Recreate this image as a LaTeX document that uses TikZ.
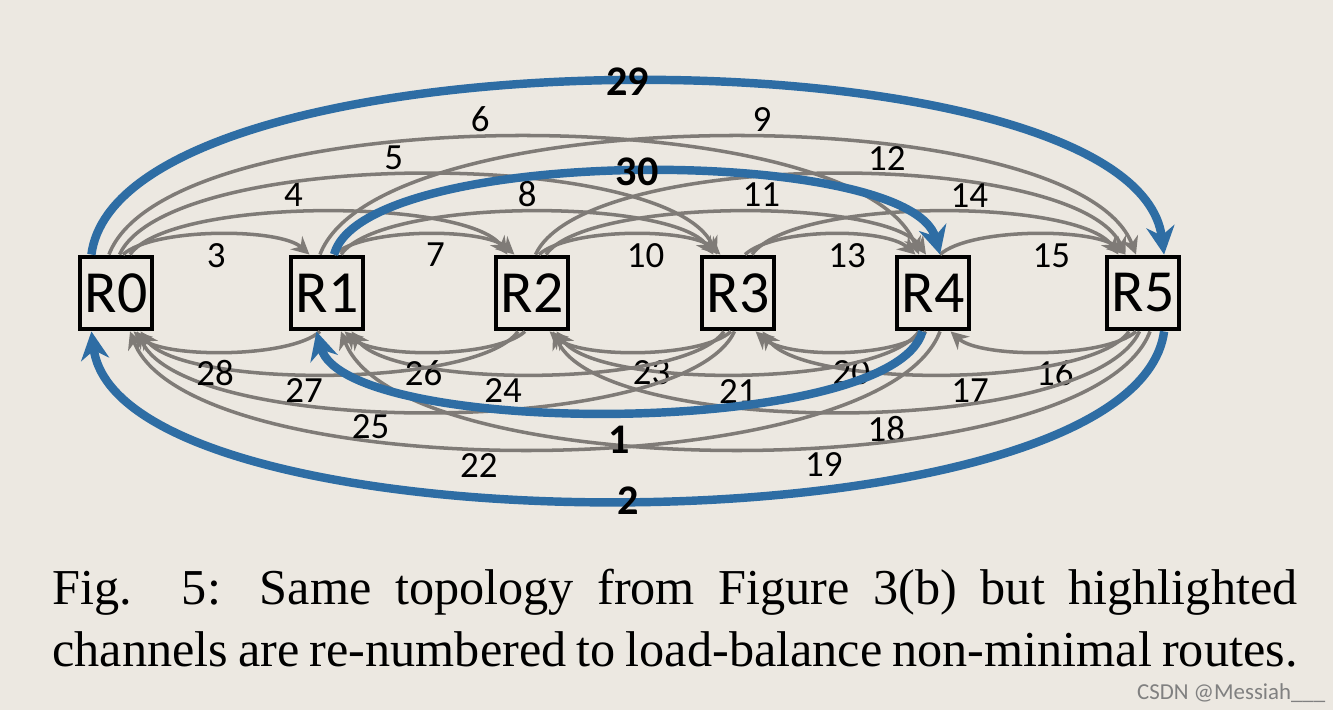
\documentclass[tikz,border=0pt]{standalone}
\usepackage{fontspec}
\setmainfont{Liberation Serif}
\newfontfamily\labfont{Carlito}
\usetikzlibrary{arrows.meta}
\definecolor{bgcol}{HTML}{ECE8E1}
\definecolor{chgray}{HTML}{7F7B77}
\definecolor{hotblue}{HTML}{2E6DA4}
\tikzset{
  router/.style={draw, line width=1.4pt, minimum size=0.72cm, inner sep=0pt, font=\labfont\fontsize{17}{17}\selectfont},
  chan/.style={draw=chgray, line width=1pt, -{Stealth[length=5pt,width=5pt]}},
  hot/.style={draw=hotblue, line width=2.4pt, -{Stealth[length=8pt,width=8pt]}},
  num/.style={font=\labfont\fontsize{10.5}{10.5}\selectfont, inner sep=1pt},
  hotnum/.style={font=\labfont\bfseries\fontsize{12}{12}\selectfont, inner sep=1pt}
}
\begin{document}
\begin{tikzpicture}
	\fill [bgcol] (0,0) rectangle (13.33,7.10);
	\useasboundingbox (0,0) rectangle (13.33,7.10);
	% routers
	\node [router] (R0) at (1.16, 4.17) {R0};
	\node [router] (R1) at (3.27, 4.17) {R1};
	\node [router] (R2) at (5.32, 4.17) {R2};
	\node [router] (R3) at (7.38, 4.17) {R3};
	\node [router] (R4) at (9.33, 4.17) {R4};
	\node [router] (R5) at (11.43, 4.17) {R5};
	% upper channels
	\draw [chan] ([xshift=2pt]R0.north) .. controls +(0.3,0.27) and +(-0.3,0.27) .. ([xshift=-5pt]R1.north) node [num, pos=0.5, below=1pt] {3};
	\draw [chan] ([xshift=4pt]R0.north) .. controls +(0.4,0.57) and +(-0.4,0.57) .. ([xshift=-7pt]R2.north) node [num, pos=0.45, above=0pt] {4};
	\draw [chan] ([xshift=1pt]R0.north) .. controls +(0.5,1.07) and +(-0.5,1.07) .. ([xshift=-6pt]R3.north) node [num, pos=0.47, above=0pt] {5};
	\draw [chan] ([xshift=-2pt]R0.north) .. controls +(0.6,1.57) and +(-0.6,1.57) .. ([xshift=-4pt]R4.north) node [num, pos=0.47, above=0pt] {6};
	\draw [chan] ([xshift=2pt]R1.north) .. controls +(0.3,0.27) and +(-0.3,0.27) .. ([xshift=-5pt]R2.north) node [num, pos=0.55, below=1pt] {7};
	\draw [chan] ([xshift=4pt]R1.north) .. controls +(0.4,0.57) and +(-0.4,0.57) .. ([xshift=-7pt]R3.north) node [num, pos=0.5, above=0pt] {8};
	\draw [chan] ([xshift=-2pt]R1.north) .. controls +(0.6,1.57) and +(-0.6,1.57) .. ([xshift=-2pt]R5.north) node [num, pos=0.53, above=0pt] {9};
	\draw [chan] ([xshift=2pt]R2.north) .. controls +(0.3,0.27) and +(-0.3,0.27) .. ([xshift=-5pt]R3.north) node [num, pos=0.57, below=1pt] {10};
	\draw [chan] ([xshift=4pt]R2.north) .. controls +(0.4,0.57) and +(-0.4,0.57) .. ([xshift=-2pt]R4.north) node [num, pos=0.55, above=0pt] {11};
	\draw [chan] ([xshift=1pt]R2.north) .. controls +(0.5,1.07) and +(-0.5,1.07) .. ([xshift=-5pt]R5.north) node [num, pos=0.57, above=0pt] {12};
	\draw [chan] ([xshift=2pt]R3.north) .. controls +(0.3,0.27) and +(-0.3,0.27) .. ([xshift=-5pt]R4.north) node [num, pos=0.58, below=1pt] {13};
	\draw [chan] ([xshift=4pt]R3.north) .. controls +(0.4,0.57) and +(-0.4,0.57) .. ([xshift=-7pt]R5.north) node [num, pos=0.57, above=0pt] {14};
	\draw [chan] ([xshift=2pt]R4.north) .. controls +(0.3,0.27) and +(-0.3,0.27) .. ([xshift=-5pt]R5.north) node [num, pos=0.58, below=1pt] {15};
	% lower channels
	\draw [chan] ([xshift=-2pt]R5.south) .. controls +(-0.3,-0.27) and +(0.3,-0.27) .. ([xshift=5pt]R4.south) node [num, pos=0.45, below=1pt] {16};
	\draw [chan] ([xshift=-4pt]R5.south) .. controls +(-0.4,-0.57) and +(0.4,-0.57) .. ([xshift=7pt]R3.south) node [num, pos=0.45, below=0pt] {17};
	\draw [chan] ([xshift=-1pt]R5.south) .. controls +(-0.5,-1.07) and +(0.5,-1.07) .. ([xshift=6pt]R2.south) node [num, pos=0.45, below=0pt] {18};
	\draw [chan] ([xshift=2pt]R5.south) .. controls +(-0.6,-1.57) and +(0.6,-1.57) .. ([xshift=4pt]R1.south) node [num, pos=0.43, below=0pt] {19};
	\draw [chan] ([xshift=-2pt]R4.south) .. controls +(-0.3,-0.27) and +(0.3,-0.27) .. ([xshift=5pt]R3.south) node [num, pos=0.45, below=1pt] {20};
	\draw [chan] ([xshift=-4pt]R4.south) .. controls +(-0.4,-0.57) and +(0.4,-0.57) .. ([xshift=7pt]R2.south) node [num, pos=0.5, below=0pt] {21};
	\draw [chan] ([xshift=2pt]R4.south) .. controls +(-0.6,-1.57) and +(0.6,-1.57) .. ([xshift=4pt]R0.south) node [num, pos=0.55, below=0pt] {22};
	\draw [chan] ([xshift=-2pt]R3.south) .. controls +(-0.3,-0.27) and +(0.3,-0.27) .. ([xshift=5pt]R2.south) node [num, pos=0.45, below=1pt] {23};
	\draw [chan] ([xshift=-4pt]R3.south) .. controls +(-0.4,-0.57) and +(0.4,-0.57) .. ([xshift=7pt]R1.south) node [num, pos=0.57, below=0pt] {24};
	\draw [chan] ([xshift=-1pt]R3.south) .. controls +(-0.5,-1.07) and +(0.5,-1.07) .. ([xshift=6pt]R0.south) node [num, pos=0.58, below=0pt] {25};
	\draw [chan] ([xshift=-2pt]R2.south) .. controls +(-0.3,-0.27) and +(0.3,-0.27) .. ([xshift=5pt]R1.south) node [num, pos=0.55, below=1pt] {26};
	\draw [chan] ([xshift=-4pt]R2.south) .. controls +(-0.4,-0.57) and +(0.4,-0.57) .. ([xshift=7pt]R0.south) node [num, pos=0.55, below=0pt] {27};
	\draw [chan] ([xshift=-2pt]R1.south) .. controls +(-0.3,-0.27) and +(0.3,-0.27) .. ([xshift=5pt]R0.south) node [num, pos=0.55, below=1pt] {28};
	% highlighted channels
	\draw [hot] ([xshift=-7pt]R0.north) .. controls +(0.3,2.3) and +(-0.3,2.3) .. ([xshift=6pt]R5.north) node [hotnum, pos=0.5] {29};
	\draw [hot] ([xshift=2pt]R1.north) .. controls +(0.3,1.1) and +(-0.3,1.1) .. ([xshift=2pt]R4.north) node [hotnum, pos=0.5] {30};
	\draw [hot] ([xshift=-3pt]R4.south) .. controls +(-0.3,-1.07) and +(0.3,-1.07) .. ([xshift=-3pt]R1.south) node [hotnum, pos=0.5, below=2pt] {1};
	\draw [hot] ([xshift=6pt]R5.south) .. controls +(-0.3,-2.25) and +(0.3,-2.25) .. ([xshift=-7pt]R0.south) node [hotnum, pos=0.5] {2};
	% caption
	\node [text width=12.45cm, align=justify, inner sep=0pt, font=\fontsize{14.3}{17.5}\selectfont] (caption) at (6.75, 0.92) {Fig. 5: Same topology from Figure 3(b) but highlighted\linebreak channels are re-numbered to load-balance non-minimal routes.\parfillskip=0pt\par};
	\node [anchor=south east, text=gray, inner sep=2pt, font=\labfont\fontsize{6.5}{6.5}\selectfont] (mark) at (13.33, 0) {CSDN @Messiah\_\_\_};
\end{tikzpicture}
\end{document}
